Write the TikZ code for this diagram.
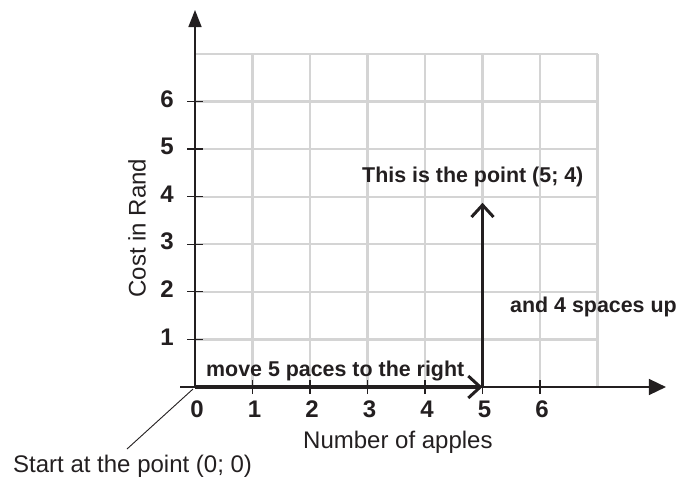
\documentclass[tikz,border=0pt]{standalone}
\usepackage{fontspec}
\setmainfont{Liberation Sans}
\usetikzlibrary{arrows.meta}
\definecolor{ink}{RGB}{35,31,32}
\definecolor{gridgray}{RGB}{212,212,212}
\tikzset{
  gridline/.style={draw=gridgray, line width=2.2pt},
  axisline/.style={draw=ink, line width=1.5pt},
  tickmark/.style={draw=ink, line width=1.2pt},
  movearrow/.style={draw=ink, line width=3.6pt, -{Straight Barb[length=12pt,width=22pt,line width=3pt]}},
  ticklabel/.style={text=ink, inner sep=0pt, font=\fontsize{24}{27}\selectfont\bfseries},
  boldlabel/.style={text=ink, inner sep=0pt, font=\fontsize{21.4}{25}\selectfont\bfseries},
  plainlabel/.style={text=ink, inner sep=0pt, font=\fontsize{24}{28}\selectfont},
  pointer/.style={draw=ink, line width=0.9pt}
}
\begin{document}
\begin{tikzpicture}[x=1pt,y=-1pt]
\useasboundingbox (0,0) rectangle (680,482);
\begin{scope}[shift={(195pt,-387pt)}, x=57.5pt, y=47.6pt]
  \foreach \i in {1,...,7} {
    \draw[gridline] (\i,0) -- (\i,7);
    \draw[gridline] (0,\i) -- (7,\i);
  }
\end{scope}
% texts placed in pixel coordinates
\node[plainlabel, anchor=base west] (start) at (13,472) {Start at the point (0; 0)};
\node[plainlabel, anchor=base west] (xlab) at (303,448) {Number of apples};
\node[plainlabel, rotate=90] (ylab) at (137,228) {Cost in Rand};
\node[boldlabel, anchor=base west] (right) at (206,376) {move 5 paces to the right};
\node[boldlabel, anchor=base west] (up) at (510,312) {and 4 spaces up};
\node[boldlabel, anchor=base west] (pt) at (362,182) {This is the point (5; 4)};
\coordinate (ptr) at (127,449);
\begin{scope}[shift={(195pt,-387pt)}, x=57.5pt, y=47.6pt]
  \coordinate (o) at (0,0);
  \coordinate (xend) at (8.19,0);
  \coordinate (xbeg) at (-0.26,0);
  \coordinate (yend) at (0,7.92);
  \coordinate (p5) at (5,0);
  \coordinate (p54) at (5,3.87);
  \foreach \i in {1,...,6} {
    \draw[tickmark] ([yshift=-7pt]\i,0) -- ([yshift=7pt]\i,0);
    \draw[tickmark] ([xshift=-8pt]0,\i) -- ([xshift=8pt]0,\i);
    \node[ticklabel, anchor=east] (yl\i) at ([xshift=-21pt,yshift=2.5pt]0,\i) {\i};
    \node[ticklabel, anchor=base] (xl\i) at ([xshift=2pt,yshift=-30pt]\i,0) {\i};
  }
  \node[ticklabel, anchor=base] (xl0) at ([xshift=2pt,yshift=-30pt]0,0) {0};
  \draw[axisline, -{Triangle[length=17pt,width=16pt]}] (xbeg) -- (xend);
  \draw[axisline, -{Triangle[length=17pt,width=13pt]}] (o) -- (yend);
  \draw[movearrow] (o) -- (p5);
  \draw[movearrow] (p5) -- (p54);
\end{scope}
\draw[pointer] (ptr) -- ([xshift=-2pt,yshift=-2pt]o);
\end{tikzpicture}
\end{document}
